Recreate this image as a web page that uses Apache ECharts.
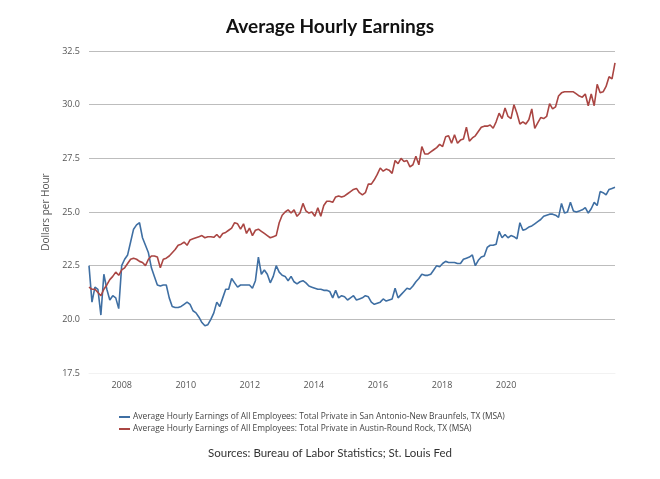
<!DOCTYPE html>
<html>
<head>
<meta charset="utf-8">
<script src="https://cdn.jsdelivr.net/npm/echarts@6/dist/echarts.min.js"></script>
<style>
html,body{margin:0;padding:0;background:#fff;}
#chart{width:660px;height:479px;}
</style>
</head>
<body>
<div id="chart"></div>
<script>
// Monthly data, Jan 2007 onwards
const startYear = 2007;
const sanAntonio = [
22.5,20.8,21.5,21.4,20.2,22.1,21.4,20.9,21.1,21.0,20.5,22.5,
22.8,23.0,23.6,24.2,24.4,24.5,23.8,23.45,23.1,22.4,22.0,21.6,
21.55,21.6,21.6,21.0,20.6,20.55,20.55,20.6,20.7,20.8,20.7,20.4,
20.3,20.1,19.85,19.7,19.75,20.0,20.3,20.8,20.6,21.0,21.4,21.4,
21.9,21.7,21.5,21.6,21.6,21.6,21.6,21.45,21.8,22.9,22.1,22.3,
22.1,21.7,22.0,22.5,22.2,22.05,22.0,21.8,22.0,21.75,21.65,21.75,
21.8,21.7,21.55,21.5,21.45,21.4,21.4,21.35,21.35,21.3,21.0,21.35,
21.0,21.1,21.05,20.9,21.0,21.1,20.9,20.95,21.0,21.1,21.05,20.8,
20.7,20.75,20.8,20.95,20.85,20.9,20.95,21.45,21.0,21.15,21.3,21.45,
21.4,21.55,21.75,21.9,22.1,22.05,22.05,22.1,22.3,22.5,22.45,22.6,
22.7,22.65,22.65,22.65,22.6,22.6,22.8,22.85,22.9,23.0,22.5,22.75,
22.9,22.95,23.35,23.45,23.45,23.5,24.1,23.8,23.95,23.8,23.9,23.85,
23.75,24.5,24.15,24.2,24.3,24.35,24.45,24.55,24.65,24.8,24.85,24.9,
24.9,24.85,24.75,25.4,24.95,25.0,25.45,25.05,25.0,25.05,25.1,25.2,
24.95,25.15,25.45,25.3,25.95,25.9,25.8,26.05,26.1,26.15
];
const austin = [
21.5,21.4,21.4,21.25,21.1,21.4,21.6,21.85,22.0,22.2,22.05,22.3,
22.4,22.6,22.8,22.85,22.8,22.7,22.65,22.5,22.8,22.95,22.95,22.9,
22.4,22.8,22.85,22.95,23.1,23.25,23.45,23.5,23.6,23.45,23.7,23.75,
23.8,23.85,23.9,23.8,23.85,23.85,23.82,23.95,23.8,24.0,24.05,24.15,
24.25,24.5,24.45,24.2,24.45,24.0,24.25,23.9,24.15,24.2,24.1,24.0,
23.9,23.8,23.85,23.9,24.5,24.85,25.0,25.1,24.95,25.1,24.8,24.95,
25.4,25.05,24.95,25.0,24.8,25.2,24.8,25.3,25.5,25.5,25.45,25.7,
25.75,25.7,25.75,25.85,25.95,26.05,26.1,25.9,25.8,25.9,26.3,26.3,
26.5,26.75,27.05,26.9,27.0,26.95,26.8,27.4,27.25,27.5,27.35,27.4,
27.1,27.2,27.6,27.2,28.05,27.7,27.7,27.8,27.9,28.0,28.15,28.05,
28.5,28.55,28.2,28.6,28.2,28.35,28.4,28.95,28.3,28.45,28.55,28.75,
28.95,29.0,29.0,29.05,28.9,29.2,29.6,29.35,29.85,29.45,29.35,30.0,
29.6,29.1,29.2,29.1,29.3,29.8,28.9,29.15,29.4,29.35,29.45,30.05,
29.8,29.9,30.4,30.55,30.6,30.6,30.6,30.6,30.5,30.4,30.35,30.5,
29.95,30.5,29.95,30.95,30.55,30.6,30.85,31.3,31.2,31.95
];
const yearTickLabels = [2008, 2010, 2012, 2014, 2016, 2018, 2020];
const seriesNames = [
  'Average Hourly Earnings of All Employees: Total Private in San Antonio-New Braunfels, TX (MSA)',
  'Average Hourly Earnings of All Employees: Total Private in Austin-Round Rock, TX (MSA)'
];

const months = sanAntonio.map((_, i) => {
  const y = startYear + Math.floor(i / 12);
  const m = (i % 12) + 1;
  return y + '-' + (m < 10 ? '0' + m : m);
});

const chart = echarts.init(document.getElementById('chart'));
const gridCol = '#bdbdbd';
chart.setOption({
  backgroundColor: '#ffffff',
  animation: false,
  title: [
    { text: 'Average Hourly Earnings', left: 'center', top: 12,
      textStyle: { fontFamily: 'Lato', fontWeight: 'bold', fontSize: 19, color: '#111' } },
    { text: 'Sources: Bureau of Labor Statistics; St. Louis Fed', left: 'center', top: 442,
      textStyle: { fontFamily: 'Lato', fontWeight: 'normal', fontSize: 11.5, color: '#333' } }
  ],
  legend: {
    orient: 'vertical', left: 114, top: 408, itemGap: 4,
    icon: 'rect', itemWidth: 11, itemHeight: 2,
    textStyle: { fontFamily: 'Open Sans', fontSize: 8.4, color: '#444', padding: [0, 0, 0, -2] },
    data: seriesNames
  },
  grid: { left: 89, right: 45, top: 51, bottom: 106, containLabel: false },
  xAxis: [
    { type: 'category', data: months, boundaryGap: false,
      axisLine: { show: true, lineStyle: { color: '#f2f2f2' } },
      axisTick: { show: false }, axisLabel: { show: false }, splitLine: { show: false } },
    { type: 'value', position: 'bottom', min: 2006.979, max: 2023.40,
      axisLine: { show: false }, axisTick: { show: false }, splitLine: { show: false },
      axisLabel: { customValues: yearTickLabels, margin: 8, fontFamily: 'Open Sans', fontSize: 9, color: '#555',
        formatter: v => (yearTickLabels.indexOf(Math.round(v)) >= 0 && Math.abs(v - Math.round(v)) < 1e-6) ? String(Math.round(v)) : '' } }
  ],
  yAxis: {
    type: 'value', min: 17.5, max: 32.5, interval: 2.5,
    name: 'Dollars per Hour', nameLocation: 'middle', nameGap: 34, nameRotate: 90,
    nameTextStyle: { fontFamily: 'Open Sans', fontSize: 10, color: '#555' },
    axisLine: { show: false }, axisTick: { show: false },
    axisLabel: { margin: 9, fontFamily: 'Open Sans', fontSize: 9, color: '#555', formatter: v => v.toFixed(1) },
    splitLine: { lineStyle: { color: ['#f2f2f2', gridCol, gridCol, gridCol, gridCol, gridCol, gridCol], width: 1 } }
  },
  series: [
    { name: seriesNames[0], type: 'line', xAxisIndex: 0, data: sanAntonio, showSymbol: false,
      lineStyle: { color: '#3f6fa3', width: 1.6 }, itemStyle: { color: '#3f6fa3' } },
    { name: seriesNames[1], type: 'line', xAxisIndex: 0, data: austin, showSymbol: false,
      lineStyle: { color: '#aa4643', width: 1.6 }, itemStyle: { color: '#aa4643' } }
  ]
});
</script>
</body>
</html>
